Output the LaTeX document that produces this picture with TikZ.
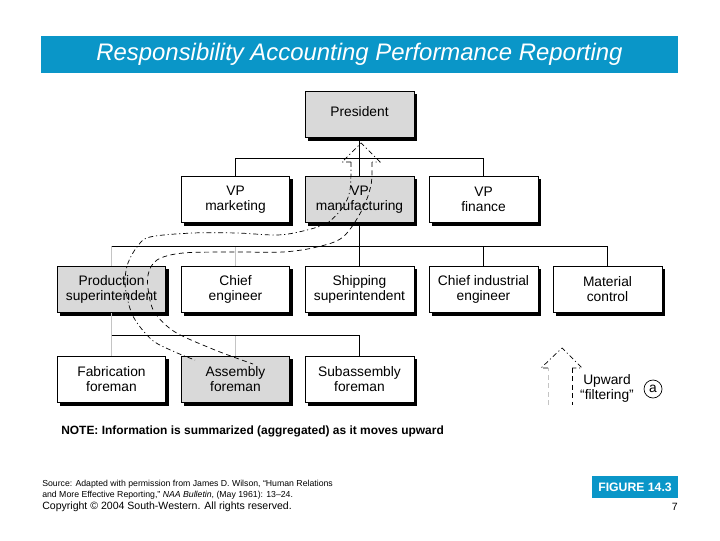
\documentclass[tikz,border=0pt]{standalone}
\usepackage{fontspec}
\setmainfont{Liberation Sans}
\usepackage{tikz}
\usetikzlibrary{shadows}
\definecolor{titleblue}{HTML}{0A96C8}
\definecolor{boxgray}{HTML}{D9D9D9}
\definecolor{lightline}{HTML}{C4C4C4}

\begin{document}
\begin{tikzpicture}[x=0.025cm, y=-0.025cm,
   orgbox/.style={draw, line width=0.6pt, fill=white, align=center,
      minimum width=2.72cm, minimum height=1.17cm, inner sep=0pt,
      font=\fontsize{9.8}{10.6}\selectfont,
      drop shadow={shadow xshift=2.4pt, shadow yshift=-2.4pt, opacity=1, fill=black}},
   orgshade/.style={orgbox, fill=boxgray},
   greyline/.style={lightline, line width=0.6pt},
   outerflow/.style={line width=0.5pt, dash pattern=on 3.5pt off 2pt on 0.8pt off 2pt},
   innerflow/.style={line width=0.5pt, dash pattern=on 3.5pt off 2.5pt},
   bar/.style={fill=titleblue, text=white, inner sep=0pt}]
   \useasboundingbox (0,0) rectangle (720,540);

   % title
   \node[bar, minimum width=15.925cm, minimum height=0.925cm,
      font=\itshape\fontsize{17}{20}\selectfont] (title) at (359.5,54.5)
      {Responsibility Accounting Performance Reporting};

   % coords
   \coordinate (bus1) at (0,158);
   \coordinate (bus2) at (0,246);
   \coordinate (bus3) at (0,335);

   % boxes
   \node[orgshade] (pres) at (359.5,114.5) {\raisebox{4pt}{President}};
   \node[orgbox] (vpmkt) at (235.5,199.5) {VP\\marketing};
   \node[orgshade] (vpmfg) at (359.5,199.5) {VP\\manufacturing};
   \node[orgbox] (vpfin) at (483.5,199.5) {VP\\finance};
   \node[orgshade] (prodsup) at (111.5,289.5) {Production\\superintendent};
   \node[orgbox] (chiefeng) at (235.5,289.5) {Chief\\engineer};
   \node[orgbox] (shipsup) at (359.5,289.5) {Shipping\\superintendent};
   \node[orgbox] (chiefind) at (483.5,289.5) {Chief industrial\\engineer};
   \node[orgbox] (matctl) at (607.5,289.5) {Material\\control};
   \node[orgbox] (fabfor) at (111.5,379.5) {Fabrication\\foreman};
   \node[orgshade] (assyfor) at (235.5,379.5) {Assembly\\foreman};
   \node[orgbox] (subfor) at (359.5,379.5) {Subassembly\\foreman};

   % lines
   \draw[line width=0.6pt] (pres) -- (vpmfg);
   \draw[line width=0.6pt] (vpmkt.north) -- (vpmkt.north |- bus1) -- (vpfin.north |- bus1) -- (vpfin.north);
   \foreach \n in {prodsup,chiefeng}{%
      \draw[greyline] (\n.north) -- (\n.north |- bus2);
   }
   \foreach \n in {shipsup,chiefind,matctl}{%
      \draw[line width=0.6pt] (\n.north) -- (\n.north |- bus2);
   }
   \draw[line width=0.6pt] (vpmfg.south) -- (vpmfg.south |- bus2);
   \draw[line width=0.6pt] (prodsup.north |- bus2) -- (matctl.north |- bus2);
   \draw[greyline] (prodsup.south) -- (fabfor.north);
   \draw[greyline] (assyfor.north) -- (assyfor.north |- bus3);
   \draw[line width=0.6pt] (subfor.north) -- (subfor.north |- bus3);
   \draw[line width=0.6pt] (prodsup.south |- bus3) -- (subfor.north |- bus3);

   % upward flow
   \draw[outerflow] plot[smooth, tension=0.55] coordinates {(351,162) (350,190) (343,207)
      (327,223) (303,231) (277,235) (237,233) (193,233) (150,237) (137,247) (128,263)
      (125,280) (127,297) (134,318) (152,340) (175,352) (195,360)};
   \draw[innerflow] plot[smooth, tension=0.55] coordinates {(372,162) (371,185) (362,210)
      (343,237) (317,247) (283,252) (237,252) (183,253) (157,260) (148,275) (149,295)
      (155,313) (175,332) (215,350) (253,364)};
   \draw[outerflow] (351,162) -- (342,162) -- (361,143) -- (380,162) -- (372,162);

   % legend
   \draw[innerflow, lightline] (548,405) -- (548,368);
   \draw[outerflow] (548,368) -- (541,368) -- (562,348) -- (582,368) -- (572,368);
   \draw[innerflow] (572,368) -- (572,405);
   \node[align=center, inner sep=0pt, font=\fontsize{9.8}{10.6}\selectfont] (upw) at (607,388)
      {Upward\\“filtering”};
   \node[draw, circle, line width=0.5pt, minimum size=0.45cm, inner sep=0pt,
      font=\fontsize{9.8}{11}\selectfont] (circa) at (653,389) {a};

   % notes
   \node[anchor=west, inner sep=0pt, font=\bfseries\fontsize{8.5}{10}\selectfont] (note) at (61,431)
      {NOTE: Information is summarized (aggregated) as it moves upward};
   \node[anchor=north west, align=left, inner sep=0pt, font=\fontsize{6.2}{7.4}\selectfont] (src) at (42,480)
      {Source: Adapted with permission from James D. Wilson, “Human Relations\\
       and More Effective Reporting,” \textit{NAA Bulletin}, (May 1961): 13–24.};
   \node[anchor=west, inner sep=0pt, font=\fontsize{7.5}{9}\selectfont] (copy) at (42,507)
      {Copyright © 2004 South-Western. All rights reserved.};
   \node[bar, minimum width=2.15cm, minimum height=0.55cm,
      font=\bfseries\fontsize{8.7}{10}\selectfont] (fig) at (635,487) {FIGURE 14.3};
   \node[anchor=east, inner sep=0pt, font=\fontsize{7.5}{9}\selectfont] (page) at (678,507) {7};
\end{tikzpicture}
\end{document}
